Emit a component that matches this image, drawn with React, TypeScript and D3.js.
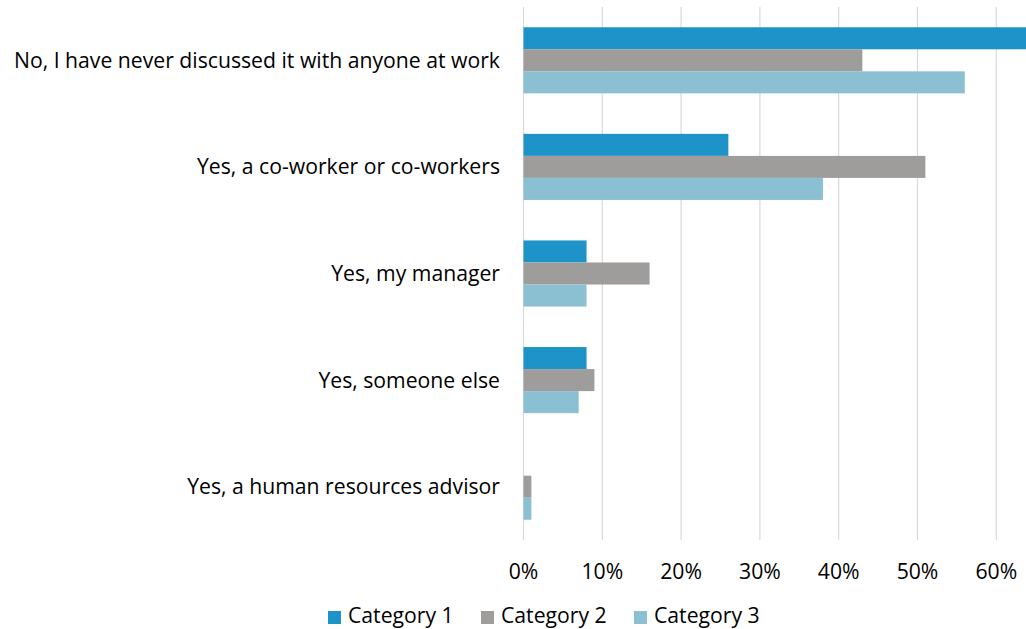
import * as d3 from 'd3';

const categories = [
    "No, I have never discussed it with anyone at work",
    "Yes, a co-worker or co-workers",
    "Yes, my manager",
    "Yes, someone else",
    "Yes, a human resources advisor",
];

const seriesNames = ["Category 1", "Category 2", "Category 3"];
const seriesColors = ["#1d93c8", "#9e9d9c", "#8bbfd2"];

const category1 = [0.64, 0.26, 0.08, 0.08, 0];
const category2 = [0.43, 0.51, 0.16, 0.09, 0.01];
const category3 = [0.56, 0.38, 0.08, 0.07, 0.01];

const xTicks = [0, 0.1, 0.2, 0.3, 0.4, 0.5, 0.6];

const width = 1026;
const height = 629;
const font = "'Open Sans', 'Liberation Sans', sans-serif";
const fontSize = 21.2;

export default function App() {
    const series = [category1, category2, category3];

    const x = d3.scaleLinear([0, 0.6], [523.5, 996.3]);
    const y = d3.scaleBand(categories, [7, 540]).paddingInner(0.38).paddingOuter(0.19);
    const inner = d3.scaleBand(seriesNames, [0, y.bandwidth()]);
    const fmt = d3.format('.0%');

    // legend layout
    const legendX = [328, 481, 634];

    return (
        <svg width={width} height={height} viewBox={`0 0 ${width} ${height}`}
            style={{ position: 'absolute', left: 0, top: 0, fontFamily: font }}>
            <rect width={width} height={height} fill="white" />
            {xTicks.map(t => (
                <line key={t} x1={x(t)} x2={x(t)} y1={7} y2={540} stroke="#d9d9d9" strokeWidth={1.2} />
            ))}
            {categories.map((c, i) => (
                <g key={c} transform={`translate(0,${y(c)})`}>
                    {series.map((s, j) => (
                        <rect key={j}
                            x={x(0)}
                            y={inner(seriesNames[j])}
                            width={x(s[i]) - x(0)}
                            height={inner.bandwidth()}
                            fill={seriesColors[j]} />
                    ))}
                    <text x={500} y={y.bandwidth() / 2} dy="0.35em" textAnchor="end" fontSize={fontSize} fill="#000">
                        {c}
                    </text>
                </g>
            ))}
            {xTicks.map(t => (
                <text key={t} x={x(t)} y={579} textAnchor="middle" fontSize={fontSize} fill="#000">{fmt(t)}</text>
            ))}
            {seriesNames.map((n, j) => (
                <g key={n} transform={`translate(${legendX[j]},611)`}>
                    <rect width={13} height={13} fill={seriesColors[j]} />
                    <text x={20} y={11.5} fontSize={fontSize} fill="#000">{n}</text>
                </g>
            ))}
        </svg>
    );
}
